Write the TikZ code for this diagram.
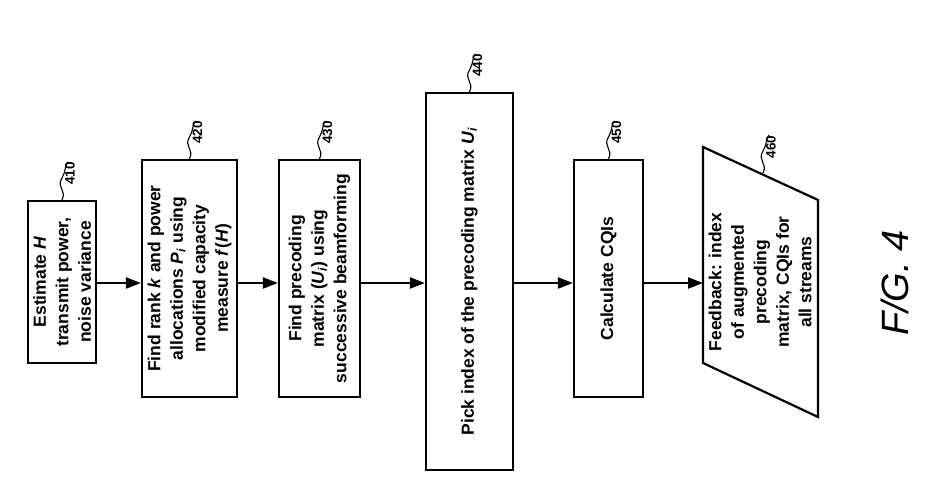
\documentclass[tikz,border=0pt]{standalone}
\usepackage{fontspec}
\setmainfont{Liberation Sans}
\usetikzlibrary{arrows.meta}
\begin{document}
\begin{tikzpicture}[x=1pt,y=1pt,
  box/.style={draw,line width=2.2pt,rotate=90,align=center,inner sep=1pt,
    font=\fontsize{17.5}{22.5}\selectfont\bfseries},
  flow/.style={line width=2.2pt,-{Triangle[length=15pt,width=11pt]}},
  sq/.style={line width=1.1pt},
  ref/.style={rotate=90,font=\fontsize{13.5}{15}\selectfont\bfseries}]
\useasboundingbox (0,0) rectangle (950,500);
\node[box,minimum width=162pt,minimum height=68pt] (a) at (62,218) {Estimate \textit{H}\\transmit power,\\noise variance};
\node[box,minimum width=237pt,minimum height=95pt] (b) at (189.5,221.5) {Find rank \textit{k} and power\\allocations \textit{P}\textsubscript{\textit{i}} using\\modified capacity\\measure \textit{f}(\textit{H})};
\node[box,minimum width=237pt,minimum height=81pt] (c) at (319.5,221.5) {Find precoding\\matrix (\textit{U}\textsubscript{\textit{i}}) using\\successive beamforming};
\node[box,minimum width=377pt,minimum height=87pt] (d) at (469.5,218.5) {Pick index of the precoding matrix \textit{U}\textsubscript{\textit{i}}};
\node[box,minimum width=237pt,minimum height=69pt] (e) at (608.5,221.5) {Calculate CQIs};
\draw[line width=2.2pt,line join=miter] (703,353) -- (818,300) -- (818,83) -- (703,137) -- cycle;
\node[rotate=90,align=center,font=\fontsize{17.5}{22.5}\selectfont\bfseries] (f) at (760,218) {Feedback: index\\of augmented\\precoding\\matrix, CQIs for\\all streams};
\coordinate (fl) at (703,217);
\coordinate (t6) at (763,327);
\draw[flow] (a.south |- 0,217) -- (b.north |- 0,217);
\draw[flow] (b.south |- 0,217) -- (c.north |- 0,217);
\draw[flow] (c.south |- 0,217) -- (d.north |- 0,217);
\draw[flow] (d.south |- 0,217) -- (e.north |- 0,217);
\draw[flow] (e.south |- 0,217) -- (fl);
\foreach \s/\n/\lab in {a.east/la/410, b.east/lb/420, c.east/lc/430, d.east/ld/440, e.east/le/450, t6/lf/460}{
  \draw[sq] (\s) .. controls +(5,10) and +(-6,-10) .. ++(0,22) .. controls +(4,6) and +(-3,-2) .. ++(6,16) coordinate (\n);
  \node[ref,anchor=east] at ([xshift=2pt,yshift=3pt]\n) {\lab};
}
\node[rotate=90,font=\fontsize{38}{44}\selectfont\itshape] (fig) at (895,217) {F/G. 4};
\end{tikzpicture}
\end{document}
